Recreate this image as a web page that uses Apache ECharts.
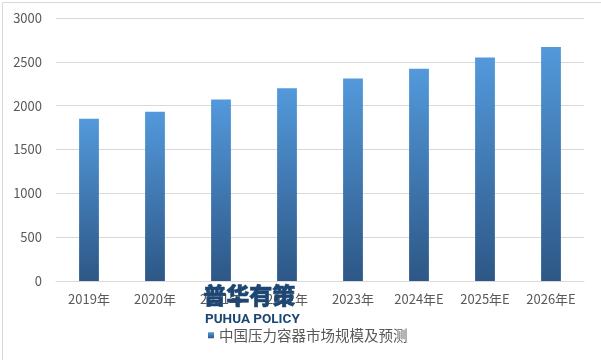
<!DOCTYPE html>
<html><head><meta charset="utf-8">
<script src="https://cdn.jsdelivr.net/npm/echarts@6/dist/echarts.min.js"></script>
<style>html,body{margin:0;padding:0;background:#fff}#c{width:601px;height:360px}</style>
</head><body><div id="c"></div>
<script>
const categories = ['2019年','2020年','2021年','2022年','2023年','2024年E','2025年E','2026年E'];
const values = [1850, 1930, 2070, 2200, 2310, 2420, 2550, 2670];
const seriesName = '中国压力容器市场规模及预测';
const yTicks = {min: 0, max: 3000, interval: 500};

const chart = echarts.init(document.getElementById('c'), null, {renderer: 'canvas'});
const font = '"Noto Sans CJK SC", "Noto Sans", sans-serif';
chart.setOption({
  animation: false,
  backgroundColor: '#fff',
  grid: {left: 56, right: 17, top: 18, bottom: 79, containLabel: false},
  xAxis: {
    type: 'category', data: categories,
    axisLine: {lineStyle: {color: '#d9d9d9'}},
    axisTick: {show: false},
    axisLabel: {color: '#595959', fontSize: 13, fontFamily: font, margin: 12}
  },
  yAxis: {
    type: 'value', min: yTicks.min, max: yTicks.max, interval: yTicks.interval,
    axisLine: {show: false}, axisTick: {show: false},
    splitLine: {lineStyle: {color: '#d9d9d9'}},
    axisLabel: {color: '#595959', fontSize: 13, fontFamily: font, margin: 14,
      formatter: v => String(v)}
  },
  legend: {
    left: 203, top: 323, icon: 'rect', itemWidth: 6, itemHeight: 6, itemGap: 10,
    textStyle: {color: '#595959', fontSize: 14.5, fontFamily: font},
    data: [seriesName]
  },
  series: [{
    name: seriesName, type: 'bar', data: values, barWidth: '30%',
    itemStyle: {
      color: new echarts.graphic.LinearGradient(0, 0, 0, 1, [
        {offset: 0, color: '#5399db'}, {offset: 1, color: '#2d5786'}
      ])
    }
  }],
  graphic: [
    {type: 'rect', left: 0, top: 0, z: 0, silent: true,
     shape: {x: 0.5, y: 0.5, width: 599, height: 358.5},
     style: {fill: 'none', stroke: '#d9d9d9', lineWidth: 1}},
    {type: 'text', left: 203, top: 283, z: 100,
     style: {text: '普华有策', fill: '#1d4673', stroke: '#1d4673', lineWidth: 0.6,
       font: '900 23px "Noto Sans CJK SC", sans-serif'}},
    {type: 'text', left: 205, top: 313, z: 100,
     style: {text: 'PUHUA POLICY', fill: '#1d4673', font: 'bold 13.5px Roboto, sans-serif'}}
  ]
});
</script></body></html>
